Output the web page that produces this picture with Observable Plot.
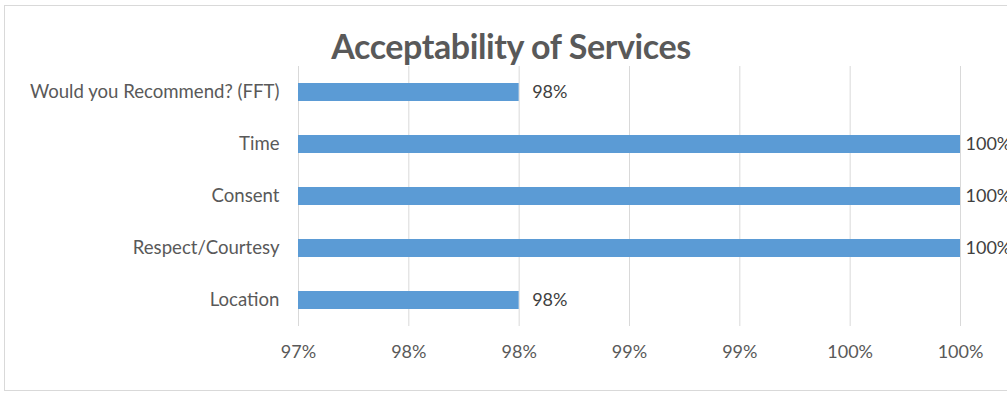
<!DOCTYPE html>
<html>
<head>
<meta charset="utf-8">
<script src="https://cdn.jsdelivr.net/npm/d3@7"></script>
<script src="https://cdn.jsdelivr.net/npm/@observablehq/plot@0.6"></script>
<style>
  html, body { margin: 0; padding: 0; background: #fff; }
  body { width: 1007px; height: 396px; overflow: hidden; position: relative; font-family: Lato, "Open Sans", sans-serif; }
  #frame { position: absolute; left: 4px; top: 5px; width: 1020px; height: 386px; border: 1px solid #d9d9d9; box-sizing: border-box; }
  #title { position: absolute; left: 0; width: 1022px; top: 26px; text-align: center; font-size: 34px; line-height: 40px; font-weight: bold; color: #595959; letter-spacing: -0.4px; }
  #chart { position: absolute; left: 0; top: 0; }
</style>
</head>
<body>
<div id="frame"></div>
<div id="title">Acceptability of Services</div>
<div id="chart"></div>
<script>
const categories = ["Would you Recommend? (FFT)", "Time", "Consent", "Respect/Courtesy", "Location"];
const values = [98, 100, 100, 100, 98];
const xTicks = [97, 97.5, 98, 98.5, 99, 99.5, 100];
const axisMin = 97;
const axisMax = 100;

const data = categories.map((c, i) => ({category: c, value: values[i]}));
const fmt = d => Math.round(d) + "%";

const chart = Plot.plot({
  width: 1007,
  height: 396,
  marginLeft: 298,
  marginRight: 47,
  marginTop: 66,
  marginBottom: 70,
  style: {fontFamily: "Lato, 'Open Sans', sans-serif", fontSize: "18px", color: "#595959", background: "transparent"},
  x: {domain: [axisMin, axisMax], ticks: xTicks, tickFormat: fmt, label: null},
  y: {domain: categories, padding: 0, label: null},
  marks: [
    Plot.gridX(xTicks, {stroke: "#d9d9d9", strokeOpacity: 1, strokeWidth: 1}),
    Plot.barX(data, {x1: () => axisMin, x2: "value", y: "category", fill: "#5b9bd5", insetTop: 17, insetBottom: 17}),
    Plot.text(data.filter(d => d.value < axisMax), {x: "value", y: "category", text: d => d.value + "%", textAnchor: "start", dx: 13, fill: "#404040", fontSize: 18}),
    Plot.text(data.filter(d => d.value >= axisMax), {x: "value", y: "category", text: d => d.value + "%", textAnchor: "start", dx: 5, fill: "#404040", fontSize: 18}),
    Plot.axisX(xTicks, {tickSize: 0, tickPadding: 19, tickFormat: fmt, fontSize: 18, fill: "#595959", label: null}),
    Plot.axisY({tickSize: 0, tickPadding: 19, fontSize: 18.6, fill: "#595959", label: null})
  ]
});
document.getElementById("chart").appendChild(chart);
</script>
</body>
</html>
